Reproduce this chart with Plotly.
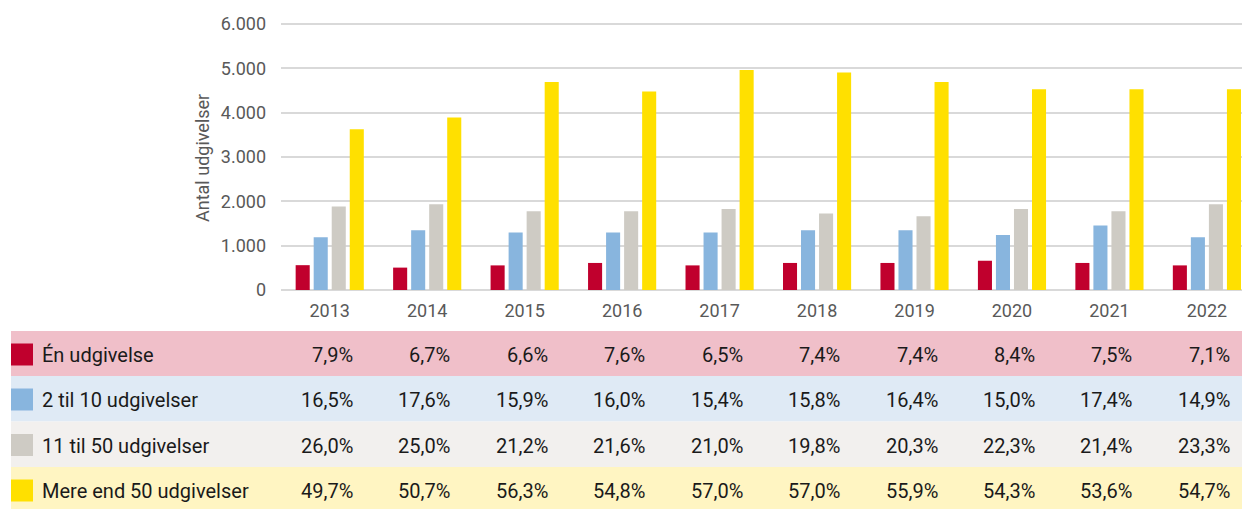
import plotly.graph_objects as go

# ---------------- data ----------------
years = ["2013", "2014", "2015", "2016", "2017", "2018", "2019", "2020", "2021", "2022"]
series_names = ["Én udgivelse", "2 til 10 udgivelser", "11 til 50 udgivelser", "Mere end 50 udgivelser"]
en_udgivelse = [560, 505, 555, 610, 555, 610, 610, 660, 610, 555]
to_til_ti = [1190, 1348, 1295, 1295, 1295, 1348, 1348, 1242, 1453, 1190]
elleve_til_halvtreds = [1882, 1935, 1777, 1777, 1829, 1725, 1664, 1829, 1777, 1935]
mere_end_halvtreds = [3627, 3892, 4689, 4479, 4960, 4908, 4689, 4530, 4530, 4530]

pct_en = ["7,9%", "6,7%", "6,6%", "7,6%", "6,5%", "7,4%", "7,4%", "8,4%", "7,5%", "7,1%"]
pct_to = ["16,5%", "17,6%", "15,9%", "16,0%", "15,4%", "15,8%", "16,4%", "15,0%", "17,4%", "14,9%"]
pct_elleve = ["26,0%", "25,0%", "21,2%", "21,6%", "21,0%", "19,8%", "20,3%", "22,3%", "21,4%", "23,3%"]
pct_mere = ["49,7%", "50,7%", "56,3%", "54,8%", "57,0%", "57,0%", "55,9%", "54,3%", "53,6%", "54,7%"]

y_ticks = [0, 1000, 2000, 3000, 4000, 5000, 6000]
y_title = "Antal udgivelser"

# ---------------- styling ----------------
W, H = 1242, 509
bar_colors = ["#C0002D", "#88B5DE", "#CECBC4", "#FFE000"]
row_colors = ["#F0BFC9", "#DFEAF5", "#F2F0EE", "#FFF5C2"]
FONT = "Roboto"

def px(x):
    return x / W

def py(y):
    return (H - y) / H

fig = go.Figure()
values = [en_udgivelse, to_til_ti, elleve_til_halvtreds, mere_end_halvtreds]
for name, vals, col in zip(series_names, values, bar_colors):
    fig.add_trace(go.Bar(x=years, y=vals, name=name, marker=dict(color=col, line=dict(width=0)),
                         showlegend=False))

shapes = []
annotations = []

# table rows
row_tops = [331, 376, 421.5, 467]
row_h = 45.5
pct_rows = [pct_en, pct_to, pct_elleve, pct_mere]
for i, top in enumerate(row_tops):
    bottom = top + row_h
    shapes.append(dict(type="rect", xref="paper", yref="paper", x0=px(11), x1=1.0,
                       y0=py(bottom), y1=py(top), fillcolor=row_colors[i], line=dict(width=0),
                       layer="below"))
    sq_top = top + 12.5
    shapes.append(dict(type="rect", xref="paper", yref="paper", x0=px(11), x1=px(33),
                       y0=py(sq_top + 22), y1=py(sq_top), fillcolor=bar_colors[i], line=dict(width=0)))
    cy = top + 22.5 + 1.5
    annotations.append(dict(text=series_names[i], xref="paper", yref="paper", x=px(40), y=py(cy),
                            xanchor="left", yanchor="middle", showarrow=False,
                            font=dict(family=FONT, size=20, color="#1a1a1a")))
    for j, t in enumerate(pct_rows[i]):
        annotations.append(dict(text=t, xref="x", yref="paper", x=j, y=py(cy), xanchor="right",
                                yanchor="middle", xshift=25, showarrow=False,
                                font=dict(family=FONT, size=20, color="#1a1a1a")))

annotations.append(dict(text=y_title, xref="paper", yref="paper", x=px(202), y=py(158),
                        textangle=-90, xanchor="center", yanchor="middle", showarrow=False,
                        font=dict(family=FONT, size=18, color="#595959")))

fig.update_layout(
    width=W, height=H,
    margin=dict(l=0, r=0, t=0, b=0, pad=0),
    paper_bgcolor="white", plot_bgcolor="white",
    separators=",.",
    barmode="group", bargap=0.26, bargroupgap=0.22,
    font=dict(family=FONT, color="#595959"),
    xaxis=dict(domain=[px(281), 1.0], type="category", range=[-0.5, 9.36], automargin=False,
               showgrid=False, showline=False, ticks="",
               tickfont=dict(family=FONT, size=18, color="#595959"), ticklabelstandoff=8),
    yaxis=dict(domain=[py(290), py(21.3)], range=[0, 6060], tickvals=y_ticks, tickformat=",d",
               automargin=False,
               showgrid=True, gridcolor="#D9D9D9", gridwidth=1.5,
               zeroline=True, zerolinecolor="#D9D9D9", zerolinewidth=1.5,
               showline=False, ticks="", ticklabelstandoff=14,
               tickfont=dict(family=FONT, size=18, color="#595959")),
    shapes=shapes,
    annotations=annotations,
)

fig.write_html(
    "out.html",
    config={"displayModeBar": False},
    post_script="document.body.style.margin='0';document.body.style.overflow='hidden';",
)
